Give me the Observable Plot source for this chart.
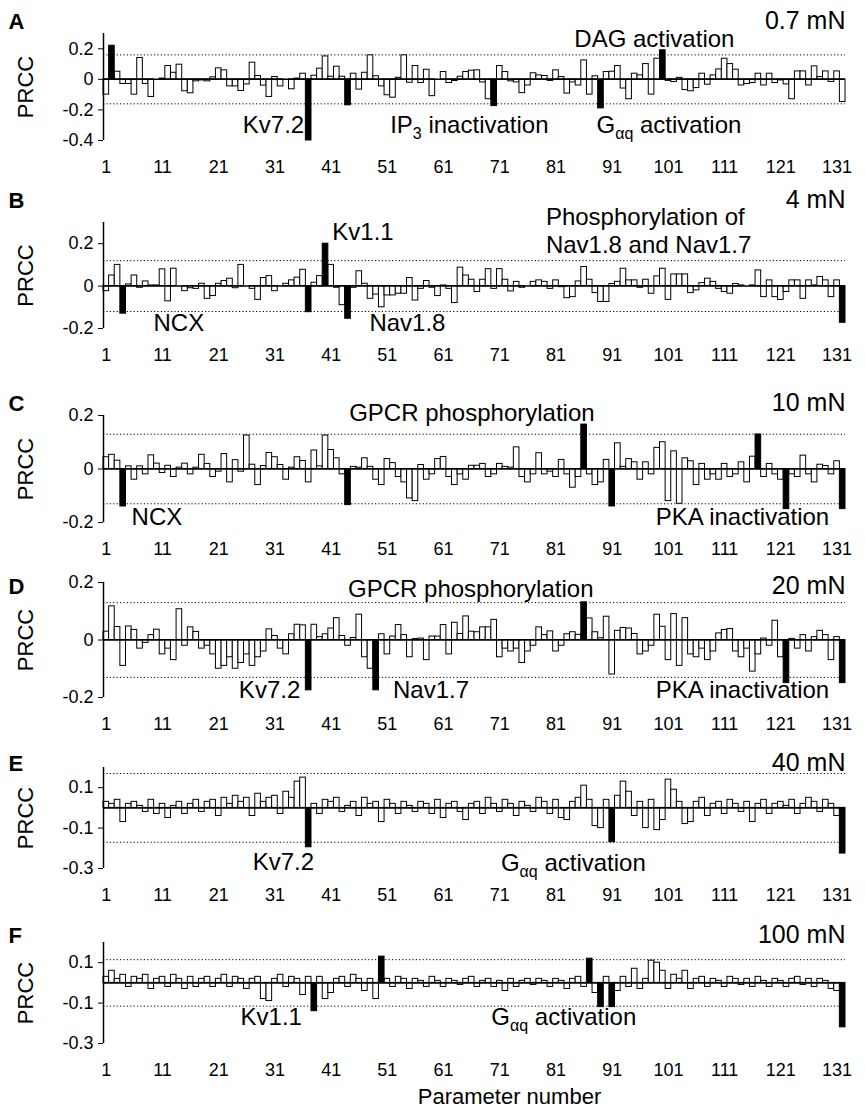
<!DOCTYPE html>
<html><head><meta charset="utf-8">
<script src="https://cdn.jsdelivr.net/npm/d3@7"></script>
<script src="https://cdn.jsdelivr.net/npm/@observablehq/plot@0.6"></script>
<style>
body{margin:0;background:#fff;}
#chart{position:relative;width:865px;height:1118px;overflow:hidden;font-family:"Liberation Sans",Arial,sans-serif;}
#chart svg{position:absolute;left:0;overflow:visible;}
</style></head><body><div id="chart"></div>
<script>
// ---------- data ----------
const paramNumbers = d3.range(1, 133);
const xTickValues = [1, 11, 21, 31, 41, 51, 61, 71, 81, 91, 101, 111, 121, 131];
const forceLabels = ["0.7 mN", "4 mN", "10 mN", "20 mN", "40 mN", "100 mN"];
const panelLetters = ["A", "B", "C", "D", "E", "F"];

const prccA = [-0.10,0.22,0.05,-0.03,-0.03,-0.10,0.14,-0.03,-0.115,0,0.005,0.087,0.043,0.096,-0.078,-0.091,-0.013,-0.007,-0.013,0.013,
0.072,0.059,-0.046,-0.046,-0.076,-0.033,0.109,0.022,-0.041,-0.115,0.015,-0.046,0,-0.065,0.005,0.037,-0.40,0.024,0.07,0.15,
0.017,0.083,0.017,-0.17,0.037,-0.067,0.043,0.157,0.02,-0.046,-0.104,-0.12,0.01,0.157,-0.022,0.087,-0.024,0.063,-0.11,0,
0.048,-0.024,-0.011,0.017,0.048,0.057,0.059,-0.02,-0.13,-0.175,0.087,0.048,-0.013,-0.02,-0.09,-0.04,0.04,0.026,0.022,-0.01,
0.059,0.015,-0.093,-0.02,-0.04,0.124,-0.10,0.02,-0.19,0.048,0.05,0.087,-0.06,-0.13,0.037,0.026,0.10,-0.10,0.135,0.19,
-0.01,-0.017,0.01,-0.07,-0.078,-0.057,0.037,-0.035,0.026,0.065,0.135,0.10,0.063,-0.04,-0.03,-0.024,0.037,-0.04,0.037,-0.024,
-0.007,-0.033,-0.13,0.052,0.052,-0.04,0.085,0.015,0.052,-0.017,0.052,-0.148];
const blackA = [2, 37, 44, 70, 89, 100];

const prccB = [-0.024,0.05,0.10,-0.13,0.008,0.05,-0.008,0.022,0.003,0.003,0.079,-0.072,0.082,0,-0.024,-0.01,-0.013,0.011,-0.06,-0.047,
0.011,0.024,0.035,-0.01,0.10,0,-0.013,-0.065,0.038,0.047,-0.024,0,0.011,0.027,0.04,0.077,-0.123,0.016,0.047,0.20,
0.10,-0.008,-0.09,-0.154,-0.008,0.07,0.011,-0.06,-0.04,-0.10,-0.044,-0.044,-0.036,-0.036,0.038,-0.068,-0.013,0.024,-0.008,-0.047,
0.003,-0.013,-0.08,0.087,0.05,0.03,-0.028,0.03,0.08,-0.013,0.08,0.03,-0.025,0.02,-0.008,0,0.02,0.027,0.02,-0.013,
0.027,-0.005,-0.057,-0.052,0.022,0.09,0.03,-0.033,-0.075,-0.075,0.01,0.02,0.082,0.027,0.027,-0.008,0.03,-0.036,0.046,0.082,
-0.065,0.055,0.055,0.055,-0.033,-0.02,0.014,0.035,0.02,-0.013,-0.028,-0.036,0.01,0.003,0,0.003,0.074,-0.052,0.027,-0.052,
-0.065,-0.028,0.027,0.027,-0.06,0.027,0.003,0.043,0.027,-0.052,0.027,-0.173];
const blackB = [4, 37, 40, 44, 132];

const prccC = [0.044,0.053,0.031,-0.14,0.01,-0.04,0.01,-0.02,0.051,0.02,-0.015,0.012,-0.03,0.005,0.02,-0.02,0.005,0.053,0.019,-0.03,
-0.01,0.056,-0.05,0.033,-0.01,0.125,0.016,-0.06,0.011,0.06,0.044,0.015,-0.04,0.005,0.044,0.03,-0.05,0.069,0.01,0.125,
0.071,0.04,-0.02,-0.135,0.008,0.005,0.04,0.008,-0.04,-0.06,0.037,0.022,-0.03,-0.05,-0.11,-0.12,0.015,-0.04,-0.02,0.037,
0.045,-0.03,-0.06,-0.02,-0.04,0.012,0.012,0.019,-0.03,-0.02,0.019,0.008,0.005,0.081,-0.03,-0.05,-0.02,0.059,-0.02,-0.01,
-0.03,0.034,-0.02,-0.07,-0.03,0.166,-0.02,-0.06,-0.05,0.034,-0.14,0.096,0.008,0.037,0.025,-0.04,0.025,-0.02,0.079,0.10,
-0.12,0.066,-0.13,0.04,0.029,-0.06,0.019,-0.04,-0.02,-0.04,0.019,-0.03,-0.02,0.025,-0.05,0.046,0.129,-0.03,0.019,-0.02,
-0.04,-0.15,-0.02,-0.03,0.05,-0.02,-0.05,0.016,0.011,-0.02,0.029,-0.15];
const blackC = [4, 44, 86, 91, 117, 122, 132];

const prccD = [0.029,0.117,0.045,-0.09,0.047,0.035,-0.03,-0.01,0.017,0.036,-0.05,-0.03,-0.07,0.107,-0.02,0.044,0.028,-0.03,-0.02,-0.05,
-0.10,-0.09,-0.06,-0.10,-0.08,-0.05,-0.09,-0.06,-0.04,0.037,0.014,-0.03,-0.05,0.02,0.053,0.051,-0.175,0.053,0.01,0.02,
0.04,0.076,0.014,-0.02,0.007,0.088,-0.06,-0.10,-0.175,0.02,-0.05,0.012,0.052,0.017,-0.06,0.003,0.005,-0.07,0.012,0.012,
0.052,-0.05,0.06,0.021,0.082,0.029,0.027,0.044,0.044,0.07,-0.06,-0.03,-0.04,-0.03,-0.08,-0.04,-0.02,0.044,0.017,0.03,
-0.04,-0.02,0.02,0.027,0.018,0.131,0.075,0.027,0.006,0.081,-0.12,0.032,0.042,0.04,0.021,-0.05,-0.04,-0.02,0.088,0.046,
-0.07,0.09,-0.09,0.076,-0.05,-0.06,-0.03,-0.07,-0.04,0.023,0.035,0.038,-0.04,-0.06,-0.03,-0.11,-0.05,0.005,-0.02,0.067,
-0.06,-0.15,0.004,-0.03,0.017,-0.04,0.01,0.032,0.017,-0.07,0.01,-0.15];
const blackD = [37, 49, 86, 122, 132];

const prccE = [0.03,0.02,0.04,-0.07,0.02,0.03,0.01,-0.02,0.04,-0.03,0.02,-0.05,0.01,0.03,-0.03,0.02,0.04,-0.02,0.03,0.04,
-0.04,0.05,0.02,0.06,0.03,0.05,-0.04,0.07,0.03,0.05,0.06,-0.03,0.08,0.05,0.13,0.15,-0.195,0.02,-0.03,0.04,
0.03,0.05,-0.02,0.01,0.03,-0.04,0.05,0.02,0.03,-0.07,0.04,0.02,-0.03,0.03,0.01,-0.02,0.03,0.02,-0.03,0.04,
-0.05,0.02,0.03,-0.02,-0.06,0.02,0.03,-0.03,0.05,0.02,-0.02,0.04,0.02,-0.04,0.03,0.01,-0.02,0.05,0.03,-0.03,
0.04,-0.05,-0.06,0.03,0.05,0.11,0.04,-0.09,-0.10,0.04,-0.17,0.06,0.13,0.08,-0.04,0.03,-0.10,0.04,-0.11,-0.06,
0.14,0.09,0.03,-0.08,-0.07,0.03,0.05,-0.04,0.02,0.03,-0.03,0.04,0.02,-0.02,0.03,-0.07,0.02,0.04,-0.03,0.02,
0.03,0.01,0.04,-0.03,0.02,0.05,0.03,-0.02,0.04,0.02,-0.04,-0.226];
const blackE = [37, 91, 132];

const prccF = [0.03,0.06,0.02,0.04,-0.02,0.03,0.02,0.04,-0.03,0.02,0.03,-0.02,0.04,0.02,-0.03,0.03,-0.02,0.02,0.03,-0.02,
0.02,0.04,-0.02,0.03,0.02,-0.03,0.02,0.03,-0.08,-0.09,0.02,0.04,-0.02,0.03,0.02,-0.06,0.03,-0.14,0.03,-0.08,
-0.05,0.02,0.03,-0.02,0.04,0.02,-0.04,0.02,-0.08,0.13,0.02,-0.02,0.03,0.02,-0.03,0.02,0.01,-0.02,0.03,0.01,
-0.02,0.02,0.01,-0.01,0.02,0.03,-0.02,0.01,0.02,-0.02,0.01,-0.04,0.02,-0.02,0.01,0.02,-0.01,0.02,0.01,-0.02,
0.02,0.01,-0.03,0.02,0.03,-0.02,0.12,-0.05,-0.12,0.03,-0.12,-0.04,0.03,-0.02,0.07,-0.03,0.02,0.11,0.10,0.06,
-0.03,0.04,0.02,0.06,-0.03,0.02,0.03,-0.02,0.02,0.01,-0.02,0.03,0.02,-0.01,0.02,-0.02,0.03,0.01,-0.02,0.02,
0.01,-0.02,0.02,0.03,-0.01,0.02,-0.02,0.02,0.01,-0.03,-0.04,-0.22];
const blackF = [38, 50, 87, 89, 91, 132];

const yTicksA = [-0.4, -0.2, 0, 0.2];
const yTicksBCD = [-0.2, 0, 0.2];
const yTicksEF = [-0.3, -0.1, 0.1];
const thresholds = [0.16, 0.12, 0.13, 0.13, 0.17, 0.115];

// ---------- layout (positions / styles) ----------
const layout = [
  {values: prccA, black: blackA, domain: [-0.4, 0.3], ticks: yTicksA, top: 33, bottom: 140, labelDy: -5,
   notes: [
     {text: "DAG activation", x: 98.5, y: 0.21, anchor: "middle"},
     {text: "Kv7.2", x: 36.2, y: -0.35, anchor: "end"},
     {text: "IP_{3} inactivation", x: 51.5, y: -0.35, anchor: "start"},
     {text: "G_{αq} activation", x: 88.2, y: -0.35, anchor: "start"}]},
  {values: prccB, black: blackB, domain: [-0.2, 0.3], ticks: yTicksBCD, top: 222, bottom: 328, labelDy: -15,
   notes: [
     {text: "Kv1.1", x: 41.2, y: 0.217, anchor: "start"},
     {text: "NCX", x: 9.4, y: -0.21, anchor: "start"},
     {text: "Nav1.8", x: 47.8, y: -0.21, anchor: "start"},
     {text: "Phosphorylation of\nNav1.8 and Nav1.7", x: 79.2, y: 0.155, anchor: "start"}]},
  {values: prccC, black: blackC, domain: [-0.2, 0.2], ticks: yTicksBCD, top: 415, bottom: 522, labelDy: -5,
   notes: [
     {text: "GPCR phosphorylation", x: 44.2, y: 0.181, anchor: "start"},
     {text: "NCX", x: 5.5, y: -0.21, anchor: "start"},
     {text: "PKA inactivation", x: 129.6, y: -0.21, anchor: "end"}]},
  {values: prccD, black: blackD, domain: [-0.2, 0.2], ticks: yTicksBCD, top: 582, bottom: 697, labelDy: 11,
   notes: [
     {text: "GPCR phosphorylation", x: 44, y: 0.148, anchor: "start"},
     {text: "Kv7.2", x: 35.5, y: -0.2, anchor: "end"},
     {text: "Nav1.7", x: 52, y: -0.2, anchor: "start"},
     {text: "PKA inactivation", x: 129.6, y: -0.2, anchor: "end"}]},
  {values: prccE, black: blackE, domain: [-0.3, 0.2], ticks: yTicksEF, top: 767, bottom: 868, labelDy: 3,
   notes: [
     {text: "Kv7.2", x: 32.5, y: -0.305, anchor: "middle"},
     {text: "G_{αq} activation", x: 71.2, y: -0.31, anchor: "start"}]},
  {values: prccF, black: blackF, domain: [-0.3, 0.2], ticks: yTicksEF, top: 942, bottom: 1043, labelDy: 0,
   notes: [
     {text: "Kv1.1", x: 35.8, y: -0.21, anchor: "end"},
     {text: "G_{αq} activation", x: 69.5, y: -0.21, anchor: "start"}]}
];

const FONT = "'Liberation Sans', Arial, sans-serif";
const W = 865, ML = 103, MR = 20, MT = 40, MB = 70;
const fmt = d => d === 0 ? "0" : d.toFixed(1);

function applySubscripts(svg) {
  d3.select(svg).selectAll("text").each(function () {
    const s = this.textContent;
    if (!s.includes("_{")) return;
    const parts = s.split(/(_\{[^}]*\})/);
    while (this.firstChild) this.removeChild(this.firstChild);
    let shifted = false;
    for (const part of parts) {
      if (!part) continue;
      const m = part.match(/^_\{(.*)\}$/);
      const t = document.createElementNS("http://www.w3.org/2000/svg", "tspan");
      if (m) { t.textContent = m[1]; t.setAttribute("font-size", "16"); t.setAttribute("dy", "6"); shifted = true; }
      else { t.textContent = part; if (shifted) { t.setAttribute("dy", "-6"); shifted = false; } }
      this.appendChild(t);
    }
  });
}

const chart = document.getElementById("chart");
layout.forEach((p, i) => {
  const rows = paramNumbers.map((k, j) => ({k, v: p.values[j], black: p.black.includes(k)}));
  const h = p.bottom - p.top + MT + MB;
  const marks = [
    Plot.ruleY([thresholds[i], -thresholds[i]], {stroke: "#000", strokeWidth: 1, strokeDasharray: "1.2,2.2"}),
    Plot.rect(rows.filter(d => !d.black), {x1: d => d.k - 0.5, x2: d => d.k + 0.5, y1: 0, y2: "v", fill: "#fff", stroke: "#000", strokeWidth: 1}),
    Plot.rect(rows.filter(d => d.black), {x1: d => d.k - 0.5, x2: d => d.k + 0.5, y1: 0, y2: "v", fill: "#000", stroke: "#000", strokeWidth: 1}),
    Plot.ruleY([0], {stroke: "#000", strokeWidth: 1.5}),
    Plot.ruleX([0.5], {stroke: "#000", strokeWidth: 1.5}),
    Plot.axisY({ticks: p.ticks, tickSize: 5, tickPadding: 5, tickFormat: fmt, fontSize: 18, label: null, stroke: "#000"}),
    Plot.axisX({ticks: xTickValues, tickSize: 0, tickPadding: 20, fontSize: 18, label: null}),
    Plot.text(["PRCC"], {frameAnchor: "left", dx: -78, rotate: -90, fontSize: 22, textAnchor: "middle", lineAnchor: "middle"}),
    Plot.text([panelLetters[i]], {frameAnchor: "top-left", dx: -95, dy: p.labelDy, textAnchor: "start", lineAnchor: "bottom", fontSize: 22, fontWeight: "bold"}),
    Plot.text([forceLabels[i]], {frameAnchor: "top-right", dx: 0, dy: p.labelDy, textAnchor: "end", lineAnchor: "bottom", fontSize: 25}),
    ...p.notes.map(n => Plot.text([n], {x: "x", y: "y", text: "text", textAnchor: n.anchor, lineAnchor: "bottom", fontSize: 24, lineHeight: 1.17}))
  ];
  if (i === layout.length - 1) {
    marks.push(Plot.text(["Parameter number"], {frameAnchor: "bottom", dx: 35, dy: 60, fontSize: 22, lineAnchor: "bottom"}));
  }
  const svg = Plot.plot({
    width: W, height: h, marginLeft: ML, marginRight: MR, marginTop: MT, marginBottom: MB,
    style: {fontFamily: FONT, fontSize: "18px", color: "#000", background: "transparent", overflow: "visible"},
    x: {domain: [0.5, 132.5]},
    y: {domain: p.domain},
    marks
  });
  applySubscripts(svg);
  svg.style.top = (p.top - MT) + "px";
  chart.appendChild(svg);
});
</script></body></html>
